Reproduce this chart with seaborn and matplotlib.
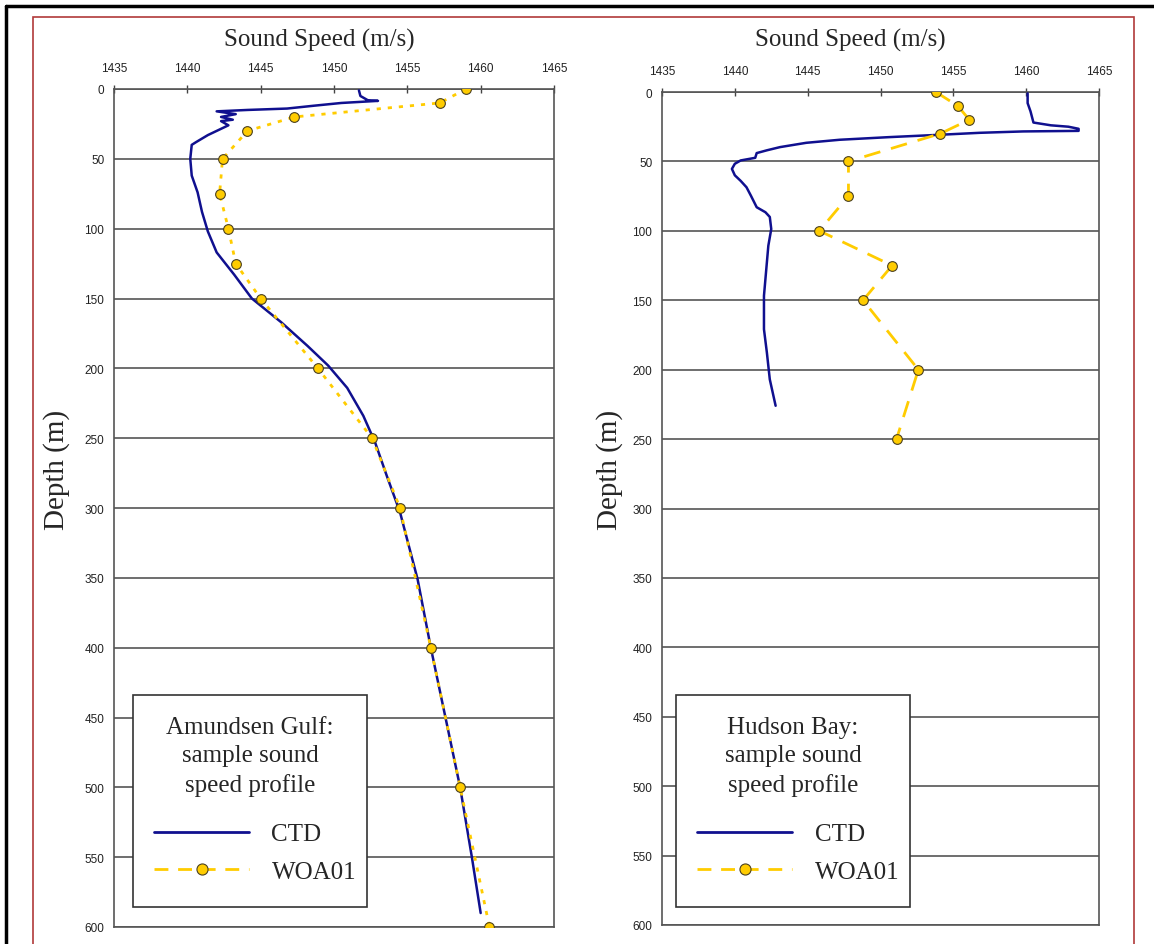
import matplotlib
matplotlib.use('Agg')
import matplotlib.pyplot as plt
from matplotlib.lines import Line2D
from matplotlib.patches import Rectangle
import seaborn as sns

# Amundsen Gulf - CTD cast
ag_ctd_speed = [1451.7, 1451.8, 1452.3, 1453.0, 1450.5, 1448.6, 1446.8, 1444.1, 1442.0, 1443.3,
                1442.3, 1443.1, 1442.3, 1442.8, 1442.2, 1441.4, 1440.6, 1440.3, 1440.2, 1440.3,
                1440.7, 1441.0, 1441.4, 1442.0, 1443.2, 1444.4, 1446.4, 1448.2, 1449.6, 1450.9,
                1452.0, 1452.8, 1453.6, 1454.5, 1455.7, 1456.6, 1457.6, 1458.6, 1459.4, 1460.0]
ag_ctd_depth = [1, 5, 8, 8.5, 10, 12, 14, 15, 16, 18,
                20, 22, 23, 26, 29, 33, 38, 40, 50, 62,
                74, 88, 102, 117, 133, 150, 167, 184, 198, 214,
                234, 253, 277, 303, 351, 400, 450, 500, 550, 590]

# Amundsen Gulf - WOA01 climatology
ag_woa_speed = [1459.0, 1457.2, 1447.3, 1444.1, 1442.4, 1442.2, 1442.8, 1443.3, 1445.0,
                1448.9, 1452.6, 1454.5, 1456.6, 1458.6, 1460.6]
ag_woa_depth = [0, 10, 20, 30, 50, 75, 100, 125, 150, 200, 250, 300, 400, 500, 600]

# Hudson Bay - CTD cast
hb_ctd_speed = [1460.1, 1460.1, 1460.3, 1460.5, 1461.7, 1462.9, 1463.6, 1463.6, 1459.8, 1456.8,
                1454.1, 1450.6, 1447.2, 1444.9, 1443.1, 1442.2, 1441.5, 1441.4, 1440.4, 1440.0,
                1439.8, 1440.0, 1440.4, 1440.8, 1441.1, 1441.5, 1442.1, 1442.4, 1442.5, 1442.3,
                1442.2, 1442.0, 1442.0, 1442.2, 1442.4, 1442.8]
hb_ctd_depth = [1, 8, 14, 22, 24, 25, 26.5, 28, 28.4, 29.4,
                30.8, 32.5, 34.4, 36.6, 39.7, 42, 44, 47.4, 49.3, 51.7,
                55.4, 60, 64, 68.6, 74.6, 83, 86.6, 90, 98.7, 110.7,
                122.7, 146.8, 170.9, 187.7, 207, 226]

# Hudson Bay - WOA01 climatology
hb_woa_speed = [1453.8, 1455.3, 1456.1, 1454.1, 1447.8, 1447.8, 1445.8, 1450.8, 1448.8, 1452.6, 1451.1]
hb_woa_depth = [0, 10, 20, 30, 50, 75, 100, 125, 150, 200, 250]

panel_titles = ['Amundsen Gulf:\nsample sound\nspeed profile',
                'Hudson Bay:\nsample sound\nspeed profile']
series_labels = ['CTD', 'WOA01']

CTD_COLOR = '#10108f'
WOA_COLOR = '#ffcc00'

sns.set_style('white')
plt.rcParams['font.family'] = ['Liberation Sans', 'DejaVu Sans']

W, H = 1154, 945
fig = plt.figure(figsize=(W / 100, H / 100), dpi=100)


def fx(px):
    return px / W


def fy(py):
    return 1 - py / H


# outer frame: black top/left lines and red chart border
fig.add_artist(Line2D([fx(6), fx(6)], [fy(7), 0], transform=fig.transFigure, color='black', lw=2.5))
fig.add_artist(Line2D([fx(6), 1], [fy(7), fy(7)], transform=fig.transFigure, color='black', lw=2.5))
fig.add_artist(Rectangle((fx(33), -0.05), fx(1134) - fx(33), fy(18) + 0.05, transform=fig.transFigure,
                         fill=False, edgecolor='#b03a3a', lw=1.2))

# axes boxes in pixels: left, top, right, bottom
boxes = [(114, 90, 554, 928), (662, 93, 1099, 926)]
# legend boxes in pixels: left, top, right, bottom, handle start
leg_boxes = [(133, 696, 367, 908, 154), (676, 696, 910, 908, 697)]

axes = []
for (l, t, r, b) in boxes:
    ax = fig.add_axes([fx(l), fy(b), (r - l) / W, (b - t) / H])
    axes.append(ax)

data = [
    (ag_ctd_speed, ag_ctd_depth, ag_woa_speed, ag_woa_depth, (0, (1.5, 2.5))),
    (hb_ctd_speed, hb_ctd_depth, hb_woa_speed, hb_woa_depth, (0, (6, 4))),
]

for i, ax in enumerate(axes):
    cs, cd, ws, wd, woa_ls = data[i]
    sns.lineplot(x=cs, y=cd, sort=False, estimator=None, color=CTD_COLOR, lw=1.8, ax=ax,
                 legend=False, zorder=3)
    sns.lineplot(x=ws, y=wd, sort=False, estimator=None, color=WOA_COLOR, lw=2, ax=ax,
                 linestyle=woa_ls, marker='o', markersize=7, markerfacecolor=WOA_COLOR,
                 markeredgecolor='#4a4020', markeredgewidth=0.8, legend=False, zorder=4)

    ax.set_xlim(1435, 1465)
    ax.set_ylim(600, 0)
    ax.set_xticks(range(1435, 1466, 5))
    ax.set_yticks(range(0, 601, 50))
    ax.xaxis.tick_top()
    ax.tick_params(axis='both', direction='inout', length=6, width=1, colors='#444444',
                   labelcolor='#222222', labelsize=8.5)
    ax.tick_params(axis='x', pad=8)
    ax.tick_params(axis='y', pad=4)
    ax.grid(axis='y', color='#555555', lw=1.2)
    ax.set_axisbelow(True)
    for s in ax.spines.values():
        s.set_color('#555555')
        s.set_linewidth(1.2)
    ax.set_xlabel('')
    ax.set_ylabel('')

    # legend: framed box with centred caption, then the two series entries
    bl, bt, br, bb, hx = leg_boxes[i]
    box = Rectangle((fx(bl), fy(bb)), (br - bl) / W, (bb - bt) / H,
                    transform=fig.transFigure, facecolor='white',
                    edgecolor='#333333', lw=1.2, zorder=9, clip_on=False)
    ax.add_artist(box)
    ax.text(fx((bl + br) / 2), fy(757), panel_titles[i], transform=fig.transFigure,
            ha='center', va='center', multialignment='center', linespacing=1.38,
            family='Liberation Serif', fontsize=18, zorder=10)
    handles = [Line2D([], [], color=CTD_COLOR, lw=2),
               Line2D([], [], color=WOA_COLOR, lw=2, linestyle=(0, (5, 3.5)), marker='o',
                      markersize=8, markerfacecolor=WOA_COLOR, markeredgecolor='#4a4020',
                      markeredgewidth=0.8)]
    leg = ax.legend(handles, series_labels, loc='center left',
                    bbox_to_anchor=(fx(hx), fy(854)), bbox_transform=fig.transFigure,
                    borderaxespad=0, borderpad=0, frameon=False,
                    handlelength=3.8, handletextpad=0.9, labelspacing=0.61,
                    prop={'family': 'Liberation Serif', 'size': 18})
    leg.set_zorder(11)

# titles and axis labels as figure text
for cx in [319, 850]:
    fig.text(fx(cx), fy(40), 'Sound Speed (m/s)', ha='center', va='center',
             family='Liberation Serif', fontsize=18)
for cx in [57, 610]:
    fig.text(fx(cx), fy(470), 'Depth (m)', ha='center', va='center', rotation=90,
             family='Liberation Serif', fontsize=21)

fig.savefig('out.png', dpi=100)
